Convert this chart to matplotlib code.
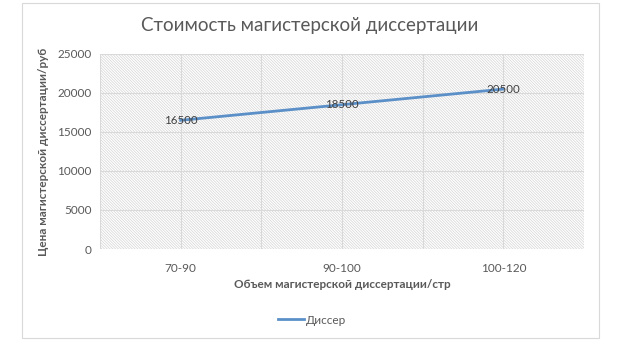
import matplotlib
matplotlib.use("Agg")
import matplotlib.pyplot as plt
from matplotlib.patches import Rectangle

categories = ["70-90", "90-100", "100-120"]
prices = [16500, 18500, 20500]
series_name = "Диссер"
yticks = [0, 5000, 10000, 15000, 20000, 25000]

plt.rcParams['font.family'] = ['Lato', 'DejaVu Sans']
plt.rcParams['hatch.linewidth'] = 0.5
grey = "#595959"
blue = "#5b8fc7"

fig = plt.figure(figsize=(6.33, 3.55), dpi=100)
W, H = 633, 355

# chart border
fig.patches.append(Rectangle((22 / W, 1 - 338 / H), (599 - 22) / W, (338 - 3) / H,
                             transform=fig.transFigure, fill=False,
                             edgecolor="#d9d9d9", linewidth=0.8))

ax = fig.add_axes([100 / W, 1 - 249 / H, (584 - 100) / W, (249 - 54) / H])
x = list(range(len(categories)))
ax.set_xlim(-0.5, len(categories) - 0.5)
ax.set_ylim(0, 25000)

# hatched plot area
ax.add_patch(Rectangle((0, 0), 1, 1, transform=ax.transAxes, facecolor="white",
                       edgecolor="#d4d4d4", hatch="\\" * 12, linewidth=0, zorder=0))

for yv in yticks:
    ax.axhline(yv, color="#d9d9d9", linewidth=0.8, zorder=1)
for xv in [i * 0.5 - 0.5 for i in range(2 * len(categories) + 1)]:
    ax.axvline(xv, color="#d9d9d9", linewidth=0.8, zorder=1)

ax.plot(x, prices, color=blue, linewidth=2, label=series_name, zorder=3)
for xi, yi in zip(x, prices):
    ax.text(xi, yi, str(yi), ha="center", va="center", fontsize=8.3, color="#404040", zorder=4)

ax.set_xticks(x)
ax.set_xticklabels(categories)
ax.set_yticks(yticks)
ax.tick_params(length=0, labelsize=8.5, labelcolor=grey, pad=6)
ax.tick_params(axis="x", pad=10)
for s in ax.spines.values():
    s.set_visible(False)

ax.set_xlabel("Объем магистерской диссертации/стр", fontsize=8.5, fontweight="bold",
              color=grey, labelpad=4)
ax.set_ylabel("Цена магистерской диссертации/руб", fontsize=8.5, fontweight="bold",
              color=grey, labelpad=6)

fig.text(310 / W, 1 - 25 / H, "Стоимость магистерской диссертации", ha="center", va="center",
         fontsize=13.5, color=grey)

leg = fig.legend(loc="center", bbox_to_anchor=(312 / W, 1 - 320 / H), frameon=False,
                 fontsize=8.5, handlelength=2.2, handletextpad=0.2)
for t in leg.get_texts():
    t.set_color(grey)

fig.savefig("out.png", dpi=100)
